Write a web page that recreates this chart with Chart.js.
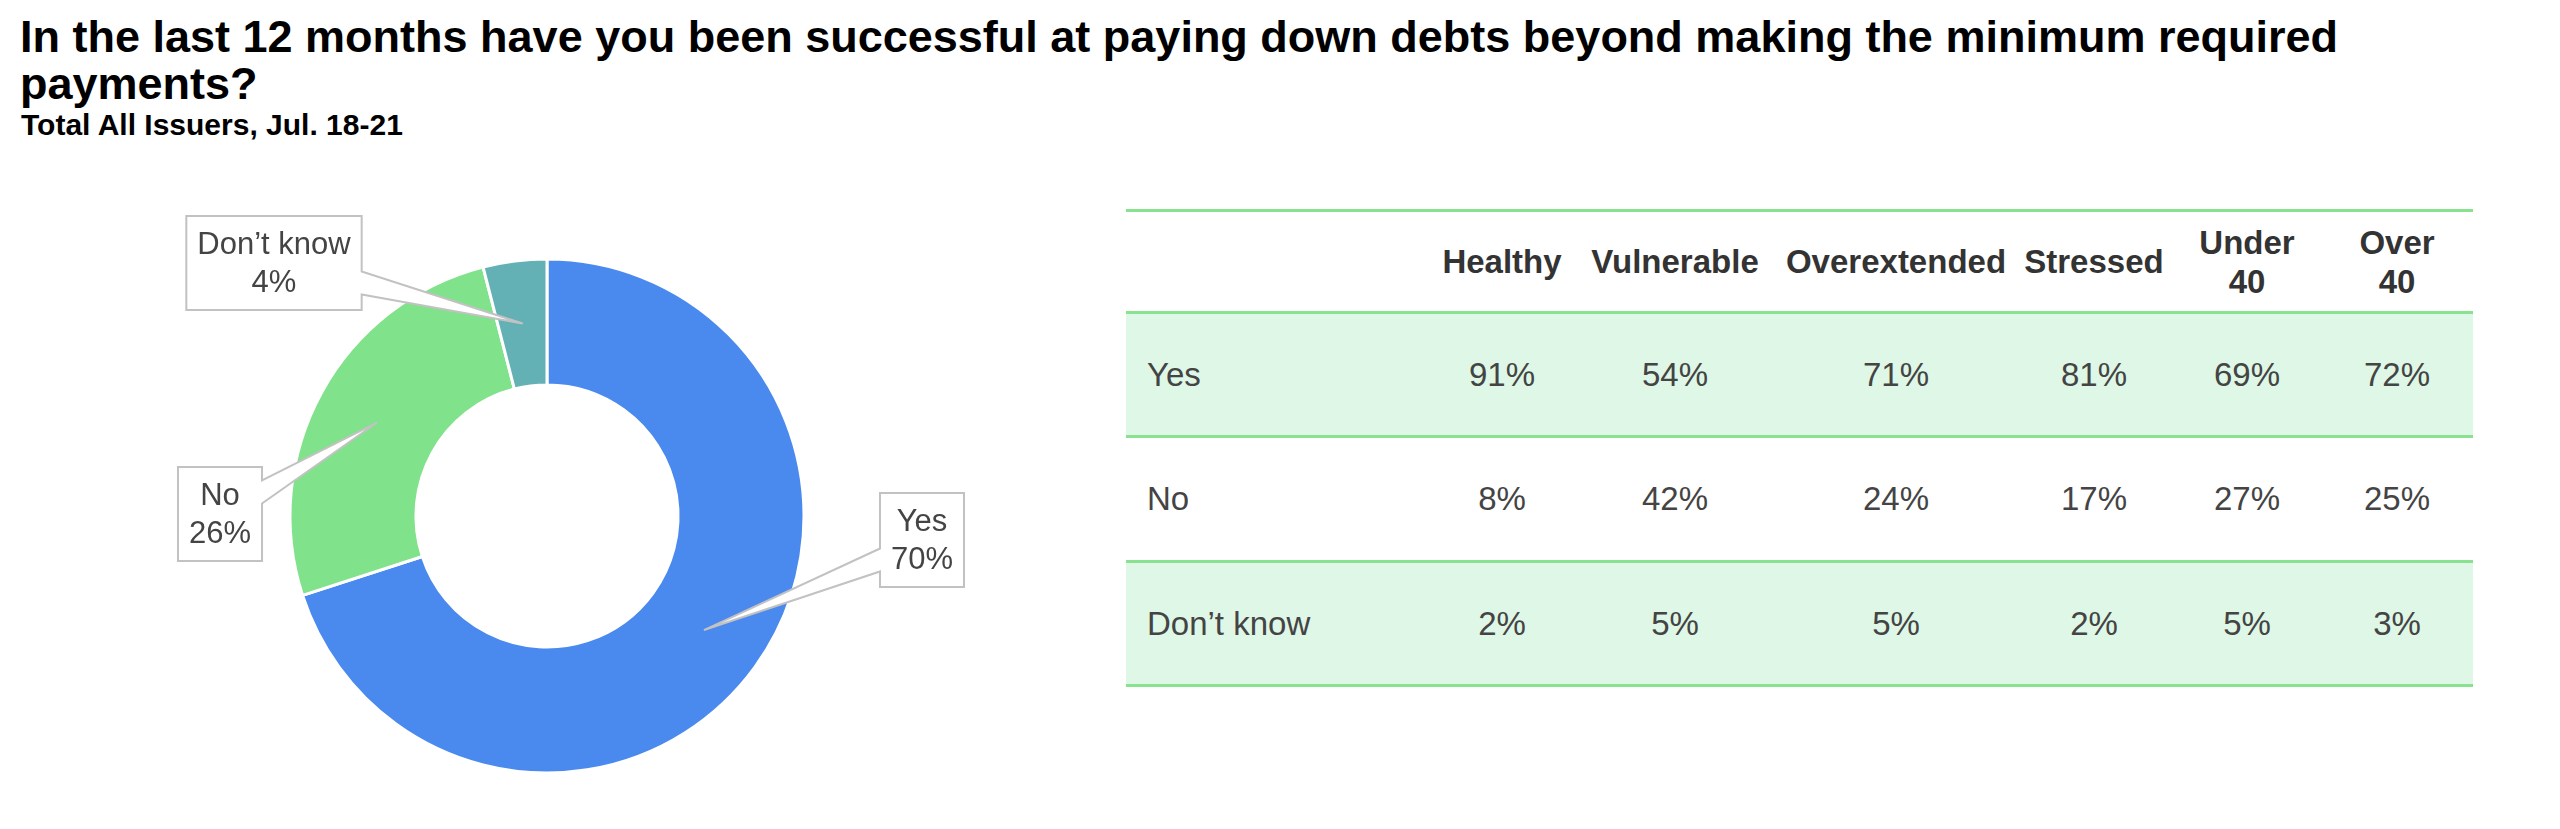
<!DOCTYPE html>
<html>
<head>
<meta charset="utf-8">
<title>Paying down debts</title>
<script src="https://cdn.jsdelivr.net/npm/chart.js@4/dist/chart.umd.min.js"></script>
<style>
    html, body {
        margin: 0;
        padding: 0;
        width: 2560px;
        height: 829px;
        overflow: hidden;
        background: #ffffff;
        font-family: "Liberation Sans", Arial, sans-serif;
    }
    #title {
        position: absolute;
        left: 20px;
        top: 13px;
        font-size: 45px;
        line-height: 47px;
        font-weight: bold;
        color: #000;
        white-space: nowrap;
    }
    #subtitle {
        position: absolute;
        left: 21px;
        top: 110px;
        font-size: 30px;
        line-height: 30px;
        font-weight: bold;
        color: #000;
        white-space: nowrap;
    }
    #chart-wrap {
        position: absolute;
        left: 0;
        top: 150px;
        width: 1100px;
        height: 679px;
    }
    #segment-table {
        position: absolute;
        left: 1126px;
        top: 209px;
        width: 1347px;
        border-top: 3px solid #88e290;
        color: #444;
        font-size: 33px;
    }
    .row {
        display: flex;
        align-items: center;
        border-bottom: 3px solid #88e290;
        height: 121px;
    }
    .row.head {
        height: 99px;
        font-weight: bold;
        color: #333;
        line-height: 39px;
    }
    .row.shaded {
        background: #dff7e6;
    }
    .row.mid {
        height: 122px;
    }
    .cell {
        text-align: center;
        white-space: pre-line;
    }
    .cell.label {
        text-align: left;
        padding-left: 21px;
        box-sizing: border-box;
    }
</style>
</head>
<body>
<div id="title">In the last 12 months have you been successful at paying down debts beyond making the minimum required<br>payments?</div>
<div id="subtitle">Total All Issuers, Jul. 18-21</div>
<div id="chart-wrap"><canvas id="donut"></canvas></div>
<div id="segment-table"></div>

<script>
// Donut data (total all issuers)
const answers = ['Yes', 'No', 'Don\u2019t know'];
const answerShares = [70, 26, 4];

// Table data by segment
const segments = ['Healthy', 'Vulnerable', 'Overextended', 'Stressed', 'Under\n40', 'Over\n40'];
const yesBySegment = [91, 54, 71, 81, 69, 72];
const noBySegment = [8, 42, 24, 17, 27, 25];
const dontKnowBySegment = [2, 5, 5, 2, 5, 3];

// Styling
const sliceColors = ['#4a89ee', '#80e28a', '#63b1b5'];
const columnWidths = [305, 142, 204, 238, 158, 148, 152];

// Where each callout box sits, relative to the donut centre
const calloutOffset = {
    'Yes': { dx: 375, dy: 24 },
    'No': { dx: -327, dy: -2 },
    'Don\u2019t know': { dx: -273, dy: -253 }
};

// Build the table
function buildTable() {
    const table = document.getElementById('segment-table');
    const rows = [
        { cls: 'head', label: '', cells: segments },
        { cls: 'shaded', label: answers[0], cells: yesBySegment.map(v => v + '%') },
        { cls: 'mid', label: answers[1], cells: noBySegment.map(v => v + '%') },
        { cls: 'shaded', label: answers[2], cells: dontKnowBySegment.map(v => v + '%') }
    ];
    rows.forEach(r => {
        const row = document.createElement('div');
        row.className = 'row ' + r.cls;
        [r.label].concat(r.cells).forEach((text, i) => {
            const cell = document.createElement('div');
            cell.className = i === 0 ? 'cell label' : 'cell';
            cell.style.width = columnWidths[i] + 'px';
            cell.textContent = text;
            row.appendChild(cell);
        });
        table.appendChild(row);
    });
}

// Callout boxes with a pointer into each slice
const calloutPlugin = {
    id: 'callouts',
    afterDatasetsDraw(chart) {
        const ctx = chart.ctx;
        const meta = chart.getDatasetMeta(0);
        ctx.save();
        ctx.font = '31px "Liberation Sans", Arial, sans-serif';
        meta.data.forEach((arc, i) => {
            const label = chart.data.labels[i];
            const value = chart.data.datasets[0].data[i];
            const lines = [label, value + '%'];
            const tip = arc.tooltipPosition();
            const off = calloutOffset[label];
            const cx = arc.x + off.dx;
            const cy = arc.y + off.dy;
            const w = Math.max(...lines.map(l => ctx.measureText(l).width)) + 22;
            const h = 94;
            const L = cx - w / 2, R = cx + w / 2, T = cy - h / 2, B = cy + h / 2;
            const bc = Math.min(Math.max(tip.y, T + 25), B - 27);
            const b1 = bc - 11.5, b2 = bc + 11.5;

            ctx.beginPath();
            ctx.moveTo(L, T);
            ctx.lineTo(R, T);
            if (tip.x > R) {
                ctx.lineTo(R, b1);
                ctx.lineTo(tip.x, tip.y);
                ctx.lineTo(R, b2);
            }
            ctx.lineTo(R, B);
            ctx.lineTo(L, B);
            if (tip.x < L) {
                ctx.lineTo(L, b2);
                ctx.lineTo(tip.x, tip.y);
                ctx.lineTo(L, b1);
            }
            ctx.closePath();
            ctx.fillStyle = '#ffffff';
            ctx.fill();
            ctx.lineWidth = 2;
            ctx.strokeStyle = '#c2c2c2';
            ctx.stroke();

            ctx.fillStyle = '#444444';
            ctx.textAlign = 'center';
            ctx.textBaseline = 'middle';
            ctx.fillText(lines[0], cx, cy - 18);
            ctx.fillText(lines[1], cx, cy + 20);
        });
        ctx.restore();
    }
};

buildTable();

const ctx = document.getElementById('donut').getContext('2d');
new Chart(ctx, {
    type: 'doughnut',
    data: {
        labels: answers,
        datasets: [{
            data: answerShares,
            backgroundColor: sliceColors,
            borderColor: '#ffffff',
            borderWidth: 3,
            hoverOffset: 0
        }]
    },
    options: {
        responsive: true,
        maintainAspectRatio: false,
        animation: false,
        radius: 257,
        cutout: '51%',
        layout: {
            padding: { left: 0, right: 6, top: 53, bottom: 0 }
        },
        plugins: {
            legend: { display: false },
            tooltip: { enabled: false }
        }
    },
    plugins: [calloutPlugin]
});
</script>
</body>
</html>
